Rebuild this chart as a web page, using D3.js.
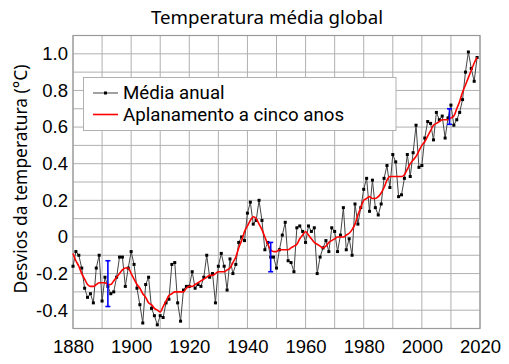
<!DOCTYPE html>
<html>
<head>
<meta charset="utf-8">
<script src="https://cdn.jsdelivr.net/npm/d3@7"></script>
<style>
  html, body { margin: 0; padding: 0; background: #fff; }
  svg { display: block; }
</style>
</head>
<body>
<svg id="chart" width="509" height="364"></svg>
<script>
const years = d3.range(1880, 2020);
const annual = [
  -0.16,-0.08,-0.10,-0.17,-0.28,-0.33,-0.31,-0.36,-0.17,-0.10,
  -0.35,-0.22,-0.27,-0.31,-0.30,-0.22,-0.11,-0.11,-0.27,-0.17,
  -0.08,-0.15,-0.28,-0.37,-0.47,-0.26,-0.22,-0.39,-0.43,-0.48,
  -0.43,-0.44,-0.36,-0.34,-0.15,-0.14,-0.36,-0.46,-0.29,-0.27,
  -0.27,-0.19,-0.28,-0.26,-0.27,-0.22,-0.10,-0.22,-0.20,-0.36,
  -0.16,-0.09,-0.16,-0.29,-0.12,-0.20,-0.15,-0.03,0.00,-0.02,
  0.13,0.19,0.07,0.09,0.20,0.09,-0.07,-0.03,-0.11,-0.11,
  -0.17,-0.07,0.01,0.08,-0.13,-0.14,-0.19,0.05,0.06,0.03,
  -0.03,0.06,0.03,0.05,-0.20,-0.11,-0.06,-0.02,-0.08,0.05,
  0.03,-0.08,0.01,0.16,-0.07,-0.01,-0.10,0.18,0.07,0.16,
  0.26,0.32,0.14,0.31,0.16,0.12,0.18,0.32,0.39,0.27,
  0.45,0.41,0.22,0.23,0.32,0.45,0.33,0.46,0.61,0.38,
  0.39,0.54,0.63,0.62,0.53,0.68,0.64,0.66,0.54,0.65,
  0.72,0.61,0.64,0.68,0.75,0.90,1.01,0.92,0.85,0.98
];
const smooth = [
  -0.09,-0.13,-0.16,-0.20,-0.23,-0.26,-0.27,-0.27,-0.26,-0.25,
  -0.25,-0.25,-0.26,-0.26,-0.24,-0.22,-0.20,-0.18,-0.17,-0.17,
  -0.20,-0.23,-0.26,-0.28,-0.31,-0.33,-0.36,-0.37,-0.39,-0.40,
  -0.41,-0.38,-0.35,-0.32,-0.31,-0.30,-0.30,-0.30,-0.30,-0.28,
  -0.27,-0.27,-0.26,-0.25,-0.24,-0.23,-0.22,-0.21,-0.21,-0.20,
  -0.19,-0.19,-0.19,-0.18,-0.17,-0.14,-0.11,-0.06,-0.02,0.03,
  0.06,0.09,0.11,0.10,0.07,0.04,0.00,-0.04,-0.07,-0.08,
  -0.08,-0.07,-0.07,-0.07,-0.07,-0.06,-0.05,-0.04,-0.01,0.01,
  0.03,0.01,-0.01,-0.03,-0.04,-0.05,-0.06,-0.05,-0.03,-0.02,
  -0.01,0.00,0.00,0.00,0.01,0.02,0.04,0.07,0.12,0.16,
  0.20,0.21,0.22,0.21,0.21,0.22,0.24,0.27,0.31,0.33,
  0.33,0.33,0.33,0.33,0.34,0.37,0.40,0.42,0.44,0.47,
  0.50,0.52,0.55,0.58,0.61,0.62,0.63,0.64,0.64,0.64,
  0.65,0.66,0.70,0.74,0.79,0.83,0.87,0.91,0.95,0.98
];
const errYears = [1892, 1948, 2009.5];
const errLow = [-0.38, -0.19, 0.615];
const errHigh = [-0.13, -0.03, 0.70];
const xTicks = [1880, 1900, 1920, 1940, 1960, 1980, 2000, 2020];
const yTicks = [-0.4, -0.2, 0, 0.2, 0.4, 0.6, 0.8, 1.0];
const yTickLabels = ["-0.4", "-0.2", "0", "0.2", "0.4", "0.6", "0.8", "1.0"];
const titleText = "Temperatura média global";
const yTitleText = "Desvios da temperatura (°C)";
const legendLabels = ["Média anual", "Aplanamento a cinco anos"];

const svg = d3.select("#chart");
const L = 73, R = 480, T = 35.5, B = 328.5;
const x = d3.scaleLinear().domain([1880, 2020]).range([L, R]);
const y = d3.scaleLinear().domain([-0.5, 1.1]).range([B, T]);

const tickFont = "'Liberation Sans', Arial, sans-serif";
const textFont = "'Noto Sans', sans-serif";
const legendFont = "Roboto, 'Noto Sans', sans-serif";

// grid
const grid = svg.append("g");
grid.selectAll("line.v").data(d3.range(1880, 2021, 10)).join("line")
  .attr("x1", d => x(d)).attr("x2", d => x(d)).attr("y1", T).attr("y2", B)
  .attr("stroke", "#b0b0b0").attr("stroke-width", 1);
grid.selectAll("line.h").data(d3.range(-5, 12).map(i => i / 10)).join("line")
  .attr("y1", d => y(d)).attr("y2", d => y(d)).attr("x1", L).attr("x2", R)
  .attr("stroke", "#b0b0b0").attr("stroke-width", 1);
svg.append("rect").attr("x", L).attr("y", T).attr("width", R - L).attr("height", B - T)
  .attr("fill", "none").attr("stroke", "#9a9a9a").attr("stroke-width", 1.2);

// axes labels
const xAxis = d3.axisBottom(x).tickValues(xTicks).tickFormat(d3.format("d")).tickSize(0).tickPadding(0);
const gx = svg.append("g").attr("transform", `translate(0,${B})`).call(xAxis);
gx.select(".domain").remove();
gx.selectAll("text").attr("font-family", tickFont).attr("font-size", 18.5)
  .attr("fill", "#000").attr("dy", null).attr("y", 24.5);

const yAxis = d3.axisLeft(y).tickValues(yTicks).tickFormat((d, i) => yTickLabels[i]).tickSize(0).tickPadding(5);
const gy = svg.append("g").attr("transform", `translate(${L},0)`).call(yAxis);
gy.select(".domain").remove();
gy.selectAll("text").attr("font-family", tickFont).attr("font-size", 18.5).attr("fill", "#000");

// title
svg.append("text").attr("x", 267).attr("y", 24).attr("text-anchor", "middle")
  .attr("font-family", textFont).attr("font-size", 18.7).attr("fill", "#000").text(titleText);
svg.append("text").attr("transform", `translate(27,179) rotate(-90)`)
  .attr("text-anchor", "middle").attr("font-family", textFont).attr("font-size", 17.4)
  .attr("fill", "#000").text(yTitleText);

// data
const data = years.map((yr, i) => ({ yr, a: annual[i], s: smooth[i] }));
const plot = svg.append("g");
plot.append("path").datum(data)
  .attr("d", d3.line().x(d => x(d.yr)).y(d => y(d.a)))
  .attr("fill", "none").attr("stroke", "#444").attr("stroke-width", 1);
plot.selectAll("rect.pt").data(data).join("rect")
  .attr("x", d => x(d.yr) - 1.5).attr("y", d => y(d.a) - 1.5)
  .attr("width", 3).attr("height", 3).attr("fill", "#000");
plot.append("path").datum(data)
  .attr("d", d3.line().curve(d3.curveMonotoneX).x(d => x(d.yr)).y(d => y(d.s)))
  .attr("fill", "none").attr("stroke", "#ff0000").attr("stroke-width", 1.6);

// error bars
const errs = errYears.map((yr, i) => ({ yr, lo: errLow[i], hi: errHigh[i] }));
const eg = plot.selectAll("g.err").data(errs).join("g").attr("stroke", "#0000ff").attr("stroke-width", 1.6);
eg.append("line").attr("x1", d => x(d.yr)).attr("x2", d => x(d.yr)).attr("y1", d => y(d.lo)).attr("y2", d => y(d.hi));
eg.append("line").attr("x1", d => x(d.yr) - 2.5).attr("x2", d => x(d.yr) + 2.5).attr("y1", d => y(d.lo)).attr("y2", d => y(d.lo));
eg.append("line").attr("x1", d => x(d.yr) - 2.5).attr("x2", d => x(d.yr) + 2.5).attr("y1", d => y(d.hi)).attr("y2", d => y(d.hi));

// legend
const lg = svg.append("g");
lg.append("rect").attr("x", 83.5).attr("y", 77.5).attr("width", 312.5).attr("height", 53)
  .attr("fill", "#fff").attr("stroke", "#b0b0b0").attr("stroke-width", 1);
lg.append("line").attr("x1", 93).attr("x2", 118).attr("y1", 93).attr("y2", 93)
  .attr("stroke", "#444").attr("stroke-width", 1);
lg.append("rect").attr("x", 104).attr("y", 91.5).attr("width", 3).attr("height", 3).attr("fill", "#000");
lg.append("line").attr("x1", 93).attr("x2", 118).attr("y1", 114.5).attr("y2", 114.5)
  .attr("stroke", "#ff0000").attr("stroke-width", 1.6);
lg.selectAll("text").data(legendLabels).join("text")
  .attr("x", 123).attr("y", (d, i) => 98.5 + i * 22)
  .attr("font-family", legendFont).attr("font-size", 18.7).attr("fill", "#000").text(d => d);
</script>
</body>
</html>
